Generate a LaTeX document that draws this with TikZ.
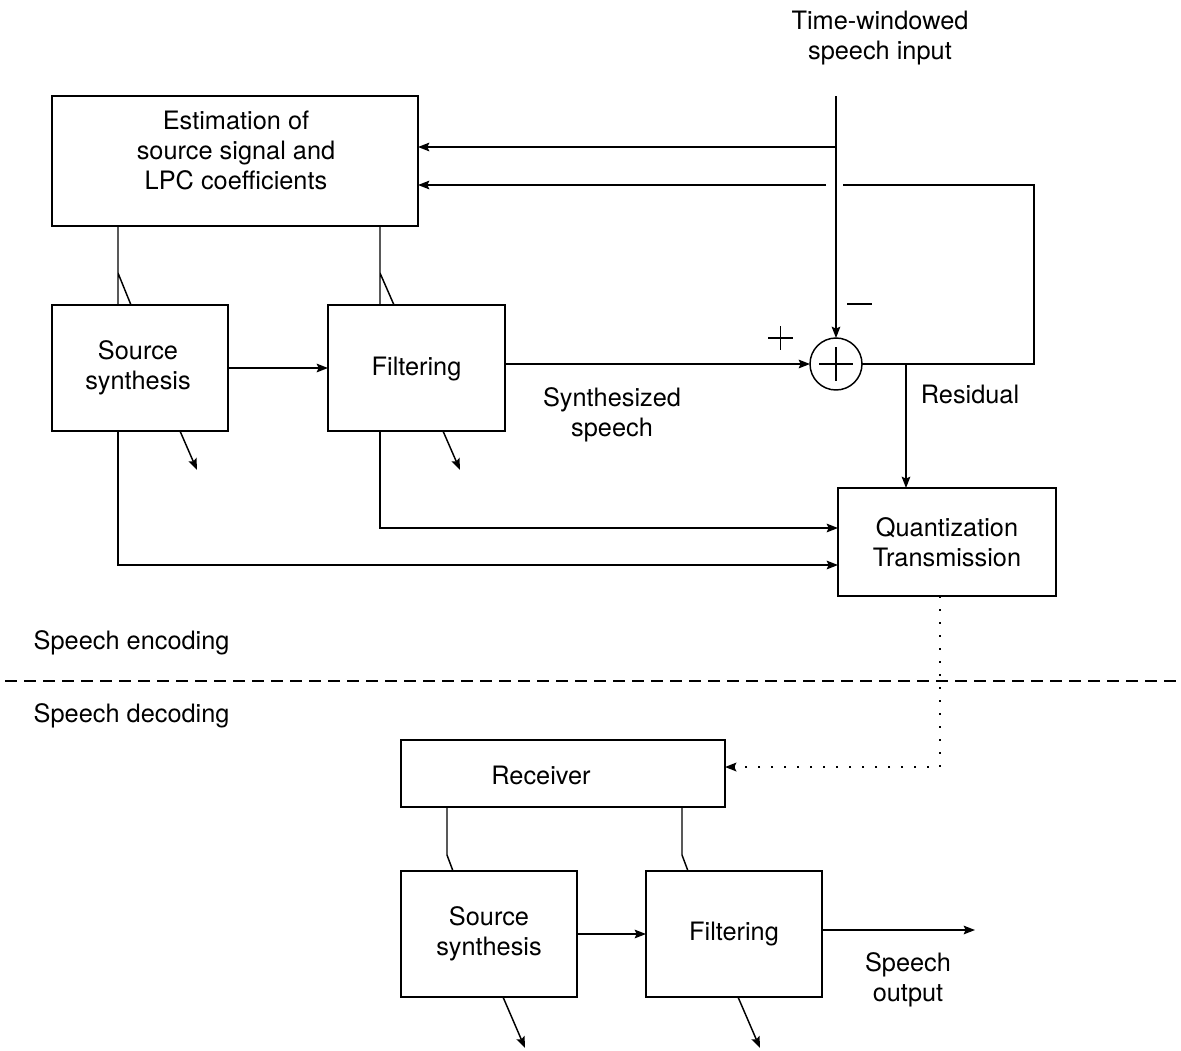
\documentclass[tikz,border=0pt]{standalone}
\usepackage{fontspec}
\setmainfont{TeX Gyre Heros}
\usetikzlibrary{arrows.meta}
\begin{document}
\begin{tikzpicture}[x=0.75pt,y=-0.75pt,
  line width=1.1pt,
  font=\fontsize{19}{22.5}\selectfont,
  >={Stealth[length=8.5pt,width=6.5pt,inset=1.5pt]},
  box/.style={draw,rectangle,inner sep=0pt,outer sep=0pt,align=center},
  lbl/.style={inner sep=0pt,align=center},
  sign/.style={line width=0.8pt}]
\useasboundingbox (0,0) rectangle (1181,1050);
% boxes
\node[box,minimum width=274.5pt,minimum height=97.5pt] (est) at (235,161) {};
\node[lbl] (estl) at (236,150) {Estimation of\\source signal and\\LPC coefficients};
\node[box,minimum width=132pt,minimum height=94.5pt] (ss1) at (140,368) {};
\node[lbl] (ss1l) at (138,368) {Source\\synthesis};
\node[box,minimum width=132.75pt,minimum height=94.5pt] (f1) at (416.5,368) {};
\node[lbl] (f1l) at (416.5,369) {Filtering};
\node[box,minimum width=163.5pt,minimum height=81pt] (q) at (947,542) {Quantization\\Transmission};
\node[box,minimum width=243pt,minimum height=50.25pt] (rec) at (563,773.5) {};
\node[lbl] (recl) at (541,775) {Receiver};
\node[box,minimum width=132pt,minimum height=94.5pt] (ss2) at (489,934) {};
\node[lbl] (ss2l) at (489,934) {Source\\synthesis};
\node[box,minimum width=132pt,minimum height=94.5pt] (f2) at (734,934) {};
\node[lbl] (f2l) at (734,934) {Filtering};
\node[draw,circle,inner sep=0pt,outer sep=0pt,minimum size=39pt] (sum) at (836,364) {};
\draw[sign] (819,364) -- (853,364) (836,347) -- (836,381);
% signs
\draw[sign] (847,304) -- (872,304);
\draw[sign] (768,338) -- (793,338) (780.5,326) -- (780.5,350);
% labels
\node[lbl] (tin) at (880,38) {Time-windowed\\speech input};
\node[lbl] (syn) at (612,415) {Synthesized\\speech};
\node[lbl] (res) at (970,394) {Residual};
\node[lbl,anchor=west] (enc) at (33,643) {Speech encoding};
\node[lbl,anchor=west] (dec) at (33,716) {Speech decoding};
\node[lbl] (out) at (908,980) {Speech\\output};
% input and feedback
\coordinate (in) at (836,96);
\coordinate (j1) at (836,147);
\draw[->] (in) -- (sum.north);
\draw[->] (j1) -- (est.east |- j1);
\coordinate (fb1) at (1034,364);
\coordinate (fb2) at (1034,185);
\coordinate (fb3) at (843,185);
\coordinate (fb4) at (826,185);
\draw (sum.east) -- (fb1) -- (fb2) -- (fb3);
\draw[->] (fb4) -- (est.east |- fb4);
% main chain
\draw[->] (ss1.east) -- (f1.west);
\draw[->] (f1.east |- sum.west) -- (sum.west);
\coordinate (r) at (906,364);
\draw[->] (r) -- (r |- q.north);
% parameter lines (top)
\coordinate (p1a) at (118,226); \coordinate (p1b) at (118,273);
\draw (p1a) -- (118,305) (p1b) -- (131,305);
\coordinate (p2a) at (380,226); \coordinate (p2b) at (380,273);
\draw (p2a) -- (380,305) (p2b) -- (394,305);
% outputs of encoder blocks
\draw[->] (180,431) -- (197,470);
\draw[->] (443,431) -- (460,470);
\coordinate (c1) at (380,431); \coordinate (c2) at (380,528);
\draw[->] (c1) -- (c2) -- (q.west |- c2);
\coordinate (d1) at (118,431); \coordinate (d2) at (118,565);
\draw[->] (d1) -- (d2) -- (q.west |- d2);
% separation
\draw[dash pattern=on 9pt off 5.25pt] (5,681) -- (1181,681);
% transmission
\coordinate (t1) at (940,596); \coordinate (t2) at (940,767);
\draw[->,line width=1.4pt,dash pattern=on 1.4pt off 8.35pt] (t1) -- (t2) -- (rec.east |- t2);
% decoder
\draw (447,807) -- (447,855) -- (453,871);
\draw (682,807) -- (682,855) -- (688,871);
\draw[->] (ss2.east) -- (f2.west);
\coordinate (o1) at (975,930);
\draw[->] (f2.east |- o1) -- (o1);
\draw[->] (503,997) -- (525,1048);
\draw[->] (738,997) -- (760,1048);
\end{tikzpicture}
\end{document}
